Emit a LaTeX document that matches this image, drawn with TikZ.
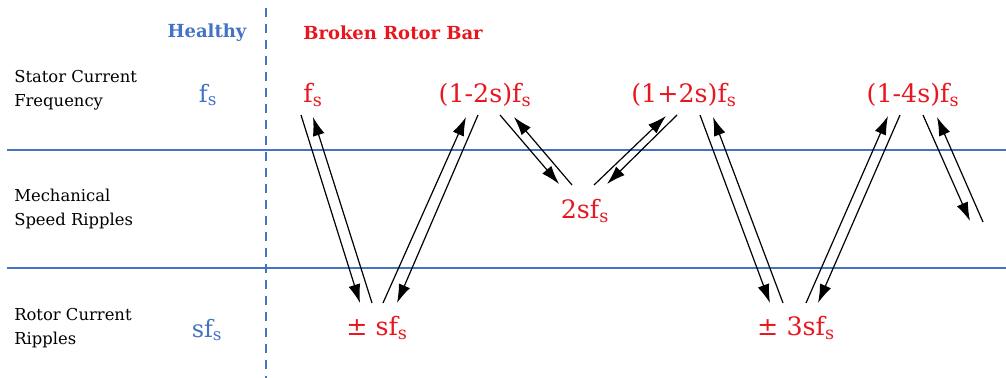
\documentclass[tikz,border=0pt]{standalone}
\usepackage{fontspec}
\setmainfont{DejaVu Serif}
\usepackage{xcolor}
\usetikzlibrary{
    arrows.meta,
    positioning
}
\definecolor{hblue}{RGB}{68,114,196}
\definecolor{bred}{RGB}{232,22,30}
\tikzset{
  rowlbl/.style  = {anchor=west, align=left, inner sep=0pt,
                    font=\fontsize{12.3}{18}\selectfont},
  hfreq/.style   = {text=hblue, inner sep=0pt, font=\fontsize{18}{20}\selectfont},
  bfreq/.style   = {text=bred, inner sep=0pt, font=\fontsize{19}{22}\selectfont},
  head/.style    = {inner sep=0pt, font=\bfseries\fontsize{13.5}{16}\selectfont},
  sepline/.style = {hblue, line width=0.8pt},
  arr/.style     = {-{Latex[length=14pt,width=9pt]}, line width=0.9pt},
}
\newcommand{\fsub}{f\textsubscript{s}}

\begin{document}
\begin{tikzpicture}[x=0.75pt, y=-0.75pt]
  \useasboundingbox (0,0) rectangle (1006,378);

  % Grid
  \draw[sepline] (7,150) -- (1006,150);
  \draw[sepline] (7,268) -- (1006,268);
  \draw[sepline, dash pattern=on 7pt off 5pt] (266,8) -- (266,378);

  % Headers
  \node[head, text=hblue] (healthy) at (207,33) {Healthy};
  \node[head, text=bred] (broken) at (393,33) {Broken Rotor Bar};

  % Row labels
  \node[rowlbl] (stator) at (14,90) {Stator Current\\Frequency};
  \node[rowlbl] (mech) at (14,209) {Mechanical\\Speed Ripples};
  \node[rowlbl] (rotor) at (14,328) {Rotor Current\\Ripples};

  % Healthy frequencies
  \node[hfreq] (hfs) at (208,95) {\fsub};
  \node[hfreq] (hsfs) at (207,330) {s\fsub};

  % Broken rotor bar frequencies
  \node[bfreq] (bfs) at (313,95) {\fsub};
  \node[bfreq] (m2s) at (485,95) {(1-2s)\fsub};
  \node[bfreq] (p2s) at (684,95) {(1+2s)\fsub};
  \node[bfreq] (m4s) at (913,95) {(1-4s)\fsub};
  \node[bfreq] (tsf) at (585,211) {2s\fsub};
  \node[bfreq] (psf) at (377,328) {± s\fsub};
  \node[bfreq] (p3sf) at (796,328) {± 3s\fsub};

  % Arrow ends
  \coordinate (bfs-a) at (301,115);  \coordinate (bfs-b) at (313,117);
  \coordinate (m2s-a) at (466,117);  \coordinate (m2s-b) at (478,115);
  \coordinate (m2s-c) at (500,115);  \coordinate (m2s-d) at (514,117);
  \coordinate (p2s-a) at (666,116);  \coordinate (p2s-b) at (677,115);
  \coordinate (p2s-c) at (700,115);  \coordinate (p2s-d) at (713,117);
  \coordinate (m4s-a) at (888,116);  \coordinate (m4s-b) at (900,115);
  \coordinate (m4s-c) at (923,115);  \coordinate (m4s-d) at (937,117);
  \coordinate (tsf-a) at (559,184);  \coordinate (tsf-b) at (572,185);
  \coordinate (tsf-c) at (594,185);  \coordinate (tsf-d) at (607,184);
  \coordinate (psf-a) at (360,303);  \coordinate (psf-b) at (372,303);
  \coordinate (psf-c) at (383,303);  \coordinate (psf-d) at (397,303);
  \coordinate (p3sf-a) at (770,303); \coordinate (p3sf-b) at (783,303);
  \coordinate (p3sf-c) at (806,303); \coordinate (p3sf-d) at (818,303);
  \coordinate (out-a) at (970,221);  \coordinate (out-b) at (983,222);

  % Arrow pairs
  \draw[arr] (bfs-a) -- (psf-a);
  \draw[arr] (psf-b) -- (bfs-b);
  \draw[arr] (psf-c) -- (m2s-a);
  \draw[arr] (m2s-b) -- (psf-d);
  \draw[arr] (m2s-c) -- (tsf-a);
  \draw[arr] (tsf-b) -- (m2s-d);
  \draw[arr] (tsf-c) -- (p2s-a);
  \draw[arr] (p2s-b) -- (tsf-d);
  \draw[arr] (p2s-c) -- (p3sf-a);
  \draw[arr] (p3sf-b) -- (p2s-d);
  \draw[arr] (p3sf-c) -- (m4s-a);
  \draw[arr] (m4s-b) -- (p3sf-d);
  \draw[arr] (m4s-c) -- (out-a);
  \draw[arr] (out-b) -- (m4s-d);
\end{tikzpicture}
\end{document}
